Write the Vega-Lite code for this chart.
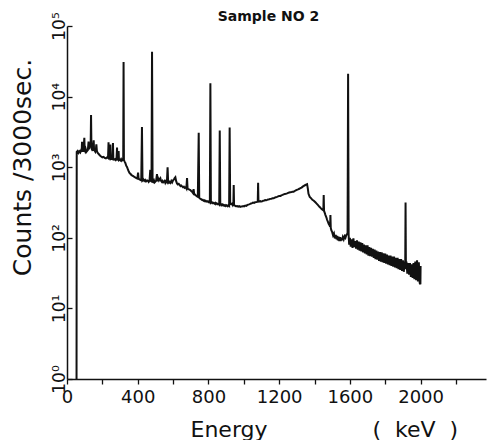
{
  "$schema": "https://vega.github.io/schema/vega-lite/v6.json",
  "width": 419,
  "height": 353,
  "autosize": "none",
  "padding": {"left": 67, "top": 26, "right": 1, "bottom": 61},
  "background": "white",
  "config": {"view": {"stroke": null}, "font": "DejaVu Sans"},
  "title": {"text": "Sample  NO  2", "font": "DejaVu Sans", "fontSize": 14, "fontWeight": "bold", "anchor": "middle", "dx": -8, "dy": 13, "offset": -10, "baseline": "alphabetic", "color": "#111"},
  "data": {"values": [
    {"e":54,"c":1},{"e":55,"c":1650},{"e":60,"c":1700},{"e":65,"c":1600},{"e":70,"c":1680},{"e":75,"c":1620},{"e":80,"c":1750},{"e":83,"c":1650},{"e":85,"c":2290},{"e":87,"c":1700},{"e":90,"c":1900},{"e":93,"c":1650},{"e":95,"c":2000},{"e":98,"c":2600},{"e":100,"c":1800},{"e":103,"c":1700},{"e":106,"c":1800},{"e":110,"c":1650},{"e":114,"c":1700},{"e":118,"c":1750},{"e":122,"c":2300},{"e":125,"c":1800},{"e":128,"c":1900},{"e":131,"c":2100},{"e":134,"c":2200},{"e":136,"c":5500},{"e":138,"c":2100},{"e":141,"c":1800},{"e":145,"c":1700},{"e":148,"c":2000},{"e":151,"c":2400},{"e":153,"c":1800},{"e":157,"c":1700},{"e":160,"c":1650},{"e":163,"c":1750},{"e":166,"c":2100},{"e":169,"c":1700},{"e":173,"c":1600},{"e":178,"c":1550},{"e":183,"c":1500},{"e":188,"c":1450},{"e":193,"c":1420},{"e":200,"c":1380},{"e":207,"c":1400},{"e":213,"c":1350},{"e":220,"c":1330},{"e":227,"c":1380},{"e":232,"c":1350},{"e":235,"c":2250},{"e":237,"c":1350},{"e":240,"c":1330},{"e":245,"c":2100},{"e":247,"c":1300},{"e":252,"c":1320},{"e":257,"c":1300},{"e":260,"c":2200},{"e":262,"c":1310},{"e":267,"c":1280},{"e":272,"c":1300},{"e":276,"c":1260},{"e":280,"c":1300},{"e":283,"c":1900},{"e":285,"c":1280},{"e":289,"c":1270},{"e":292,"c":1700},{"e":294,"c":1260},{"e":298,"c":1280},{"e":302,"c":1250},{"e":306,"c":1300},{"e":310,"c":1240},{"e":314,"c":1280},{"e":318,"c":1270},{"e":320,"c":31000},{"e":322,"c":1260},{"e":326,"c":1200},
    {"e":330,"c":1150},{"e":335,"c":1050},{"e":340,"c":1000},{"e":345,"c":920},{"e":350,"c":860},{"e":355,"c":820},{"e":360,"c":800},{"e":365,"c":770},{"e":370,"c":760},{"e":377,"c":740},{"e":385,"c":720},{"e":392,"c":700},{"e":398,"c":690},{"e":402,"c":840},{"e":405,"c":690},{"e":410,"c":670},{"e":415,"c":660},{"e":420,"c":650},{"e":424,"c":3700},{"e":427,"c":650},{"e":432,"c":670},{"e":437,"c":640},{"e":442,"c":660},{"e":447,"c":630},{"e":453,"c":650},{"e":458,"c":640},{"e":462,"c":620},{"e":467,"c":650},{"e":471,"c":915},{"e":474,"c":640},{"e":478,"c":630},{"e":481,"c":43000},{"e":484,"c":640},{"e":488,"c":620},{"e":492,"c":650},{"e":496,"c":610},{"e":500,"c":625},{"e":504,"c":640},{"e":509,"c":800},{"e":512,"c":630},{"e":516,"c":690},{"e":520,"c":650},{"e":524,"c":680},{"e":528,"c":700},{"e":532,"c":640},{"e":536,"c":620},{"e":540,"c":640},{"e":544,"c":610},{"e":548,"c":625},{"e":552,"c":640},{"e":556,"c":600},{"e":560,"c":630},{"e":565,"c":610},{"e":569,"c":1000},{"e":572,"c":620},{"e":576,"c":600},{"e":580,"c":620},{"e":585,"c":600},{"e":590,"c":640},{"e":595,"c":610},{"e":600,"c":650},{"e":605,"c":670},{"e":609,"c":700},{"e":613,"c":720},{"e":617,"c":640},{"e":622,"c":590},{"e":627,"c":570},{"e":632,"c":580},{"e":637,"c":560},{"e":642,"c":540},{"e":647,"c":550},{"e":651,"c":535},{"e":656,"c":520},{"e":661,"c":530},{"e":666,"c":510},{"e":671,"c":520},{"e":675,"c":500},{"e":679,"c":700},{"e":682,"c":500},{"e":686,"c":490},{"e":690,"c":485},{"e":694,"c":480},{"e":698,"c":476},{"e":702,"c":460},{"e":706,"c":455},{"e":710,"c":440},{"e":713,"c":430},{"e":716,"c":490},{"e":719,"c":425},{"e":723,"c":410},{"e":727,"c":400},{"e":731,"c":395},{"e":736,"c":385},{"e":740,"c":380},{"e":745,"c":3070},{"e":748,"c":370},{"e":752,"c":360},{"e":756,"c":355},{"e":760,"c":350},{"e":764,"c":344},{"e":768,"c":345},{"e":772,"c":335},{"e":776,"c":340},{"e":780,"c":330},{"e":784,"c":335},{"e":788,"c":325},{"e":792,"c":328},{"e":796,"c":330},{"e":800,"c":320},{"e":804,"c":325},{"e":808,"c":318},{"e":811,"c":15500},{"e":814,"c":315},{"e":818,"c":320},{"e":822,"c":310},{"e":826,"c":315},{"e":830,"c":310},{"e":834,"c":305},{"e":838,"c":312},{"e":842,"c":300},{"e":846,"c":308},{"e":849,"c":305},{"e":853,"c":298},{"e":857,"c":302},{"e":861,"c":295},{"e":864,"c":3300},{"e":867,"c":295},{"e":871,"c":300},{"e":875,"c":290},{"e":879,"c":296},{"e":883,"c":288},{"e":886,"c":292},{"e":890,"c":285},{"e":894,"c":290},{"e":898,"c":282},{"e":902,"c":288},{"e":905,"c":285},{"e":909,"c":280},{"e":913,"c":290},{"e":917,"c":284},{"e":920,"c":3640},{"e":923,"c":300},{"e":927,"c":305},{"e":931,"c":300},{"e":934,"c":305},{"e":938,"c":290},{"e":941,"c":300},{"e":943,"c":560},{"e":945,"c":290},{"e":950,"c":285},{"e":955,"c":280},{"e":962,"c":281},{"e":968,"c":276},{"e":974,"c":280},{"e":980,"c":274},{"e":986,"c":278},{"e":990,"c":277},{"e":996,"c":282},{"e":1002,"c":278},{"e":1008,"c":286},{"e":1014,"c":283},{"e":1019,"c":290},{"e":1025,"c":295},{"e":1030,"c":298},{"e":1036,"c":302},{"e":1041,"c":306},{"e":1047,"c":310},{"e":1052,"c":315},{"e":1058,"c":312},{"e":1064,"c":318},{"e":1070,"c":320},{"e":1076,"c":322},{"e":1079,"c":330},{"e":1081,"c":600},{"e":1083,"c":325},{"e":1088,"c":326},{"e":1094,"c":330},{"e":1099,"c":326},{"e":1104,"c":328},{"e":1110,"c":335},{"e":1116,"c":338},{"e":1121,"c":342},{"e":1127,"c":340},{"e":1132,"c":344},{"e":1138,"c":350},{"e":1144,"c":352},{"e":1150,"c":356},{"e":1156,"c":358},{"e":1163,"c":362},{"e":1169,"c":363},{"e":1175,"c":370},{"e":1181,"c":375},{"e":1188,"c":380},{"e":1194,"c":386},{"e":1200,"c":390},{"e":1207,"c":392},{"e":1213,"c":400},{"e":1219,"c":405},{"e":1226,"c":412},{"e":1232,"c":418},{"e":1238,"c":420},{"e":1245,"c":425},{"e":1251,"c":432},{"e":1257,"c":438},{"e":1263,"c":442},{"e":1270,"c":445},{"e":1276,"c":448},{"e":1282,"c":450},{"e":1288,"c":460},{"e":1294,"c":470},{"e":1300,"c":478},{"e":1307,"c":486},{"e":1314,"c":495},{"e":1320,"c":505},{"e":1327,"c":515},{"e":1333,"c":530},{"e":1340,"c":545},{"e":1346,"c":555},{"e":1352,"c":565},{"e":1358,"c":575},
    {"e":1362,"c":500},{"e":1366,"c":420},{"e":1373,"c":380},{"e":1380,"c":365},{"e":1388,"c":345},{"e":1396,"c":335},{"e":1405,"c":318},{"e":1412,"c":305},{"e":1420,"c":290},{"e":1428,"c":275},{"e":1434,"c":265},{"e":1440,"c":255},{"e":1445,"c":250},{"e":1450,"c":245},{"e":1452,"c":405},{"e":1454,"c":240},{"e":1458,"c":225},{"e":1462,"c":210},{"e":1467,"c":195},{"e":1471,"c":180},{"e":1476,"c":168},{"e":1480,"c":158},{"e":1485,"c":150},{"e":1488,"c":144},{"e":1490,"c":211},{"e":1492,"c":138},{"e":1495,"c":128},{"e":1500,"c":120},{"e":1505,"c":108},{"e":1510,"c":115},{"e":1515,"c":98},{"e":1520,"c":110},{"e":1525,"c":95},{"e":1528,"c":106},{"e":1532,"c":92},{"e":1536,"c":104},{"e":1540,"c":90},{"e":1544,"c":102},{"e":1548,"c":90},{"e":1552,"c":100},{"e":1556,"c":92},{"e":1560,"c":102},{"e":1565,"c":95},{"e":1570,"c":105},{"e":1575,"c":100},{"e":1580,"c":110},{"e":1584,"c":112},{"e":1587,"c":118},{"e":1590,"c":21000},{"e":1593,"c":110},{"e":1596,"c":80},
    {"e":1600,"c":100},{"e":1605,"c":75},{"e":1610,"c":95},{"e":1615,"c":72},{"e":1620,"c":98},{"e":1625,"c":74},{"e":1630,"c":90},{"e":1635,"c":70},{"e":1640,"c":92},{"e":1645,"c":68},{"e":1650,"c":88},{"e":1655,"c":66},{"e":1660,"c":86},{"e":1665,"c":64},{"e":1670,"c":84},{"e":1675,"c":62},{"e":1680,"c":80},{"e":1685,"c":60},{"e":1690,"c":78},{"e":1695,"c":58},{"e":1700,"c":78},{"e":1705,"c":56},{"e":1710,"c":74},{"e":1715,"c":55},{"e":1720,"c":72},{"e":1725,"c":54},{"e":1730,"c":70},{"e":1735,"c":52},{"e":1740,"c":68},{"e":1745,"c":50},{"e":1750,"c":66},{"e":1755,"c":49},{"e":1760,"c":64},{"e":1765,"c":47},{"e":1770,"c":63},{"e":1775,"c":46},{"e":1780,"c":62},{"e":1785,"c":45},{"e":1790,"c":60},{"e":1795,"c":44},{"e":1800,"c":60},{"e":1805,"c":43},{"e":1810,"c":58},{"e":1815,"c":42},{"e":1820,"c":56},{"e":1825,"c":41},{"e":1830,"c":56},{"e":1835,"c":40},{"e":1840,"c":54},{"e":1845,"c":39},{"e":1850,"c":54},{"e":1855,"c":38},{"e":1860,"c":52},{"e":1865,"c":37},{"e":1870,"c":52},{"e":1875,"c":36},{"e":1880,"c":50},{"e":1885,"c":35},{"e":1890,"c":50},{"e":1895,"c":34},{"e":1900,"c":48},{"e":1905,"c":33},{"e":1910,"c":46},{"e":1913,"c":36},{"e":1915,"c":315},{"e":1917,"c":38},{"e":1920,"c":46},{"e":1925,"c":31},{"e":1930,"c":44},{"e":1935,"c":30},{"e":1940,"c":44},{"e":1945,"c":28},{"e":1950,"c":42},{"e":1955,"c":27},{"e":1960,"c":44},{"e":1965,"c":26},{"e":1970,"c":46},{"e":1975,"c":25},{"e":1980,"c":48},{"e":1985,"c":24},{"e":1990,"c":45},{"e":1995,"c":23},{"e":1999,"c":22},{"e":2000,"c":40}
  ]},
  "mark": {"type": "line", "color": "#111", "strokeWidth": 2, "interpolate": "linear", "clip": true},
  "encoding": {
    "x": {"field": "e", "type": "quantitative",
      "scale": {"domain": [0, 2370], "nice": false, "zero": false},
      "axis": {"values": [0,200,400,600,800,1000,1200,1400,1600,1800,2000,2200],
        "labelExpr": "datum.value % 400 == 0 ? '' + datum.value : ''",
        "grid": false, "domainColor": "#111", "domainWidth": 1.5, "tickColor": "#111", "tickSize": 5, "tickWidth": 1.3,
        "labelFont": "DejaVu Sans", "labelFontSize": 18, "labelColor": "#111", "labelPadding": 4, "labelFlush": false, "labelOverlap": false,
        "title": "Energy\u00a0\u00a0\u00a0\u00a0\u00a0\u00a0\u00a0\u00a0\u00a0\u00a0\u00a0\u00a0\u00a0\u00a0\u00a0(\u00a0\u00a0keV\u00a0\u00a0)",
        "titleFont": "DejaVu Sans", "titleFontSize": 22, "titleFontWeight": "normal", "titleColor": "#111",
        "titleAlign": "left", "titleAnchor": "start", "titleBaseline": "alphabetic", "titleX": 123, "titleY": 57}},
    "y": {"field": "c", "type": "quantitative",
      "scale": {"type": "log", "domain": [1, 100000], "nice": false},
      "axis": {"values": [1,10,100,1000,10000,100000],
        "labelExpr": "'10' + ['⁰','¹','²','³','⁴','⁵'][round(log(datum.value)/LN10)]",
        "labelAngle": -90, "labelFont": "DejaVu Sans", "labelFontSize": 17, "labelColor": "#111", "labelPadding": 4, "labelFlush": false, "labelOverlap": false,
        "grid": false, "domainColor": "#111", "domainWidth": 1.5, "tickColor": "#111", "tickSize": -5, "tickWidth": 1.3,
        "title": "Counts\u00a0/3000sec.", "titleFont": "DejaVu Sans", "titleFontSize": 25, "titleFontWeight": "normal", "titleColor": "#111",
        "titleAngle": -90, "titleAlign": "center", "titleBaseline": "alphabetic", "titleX": -37, "titleY": 141}}
  }
}
